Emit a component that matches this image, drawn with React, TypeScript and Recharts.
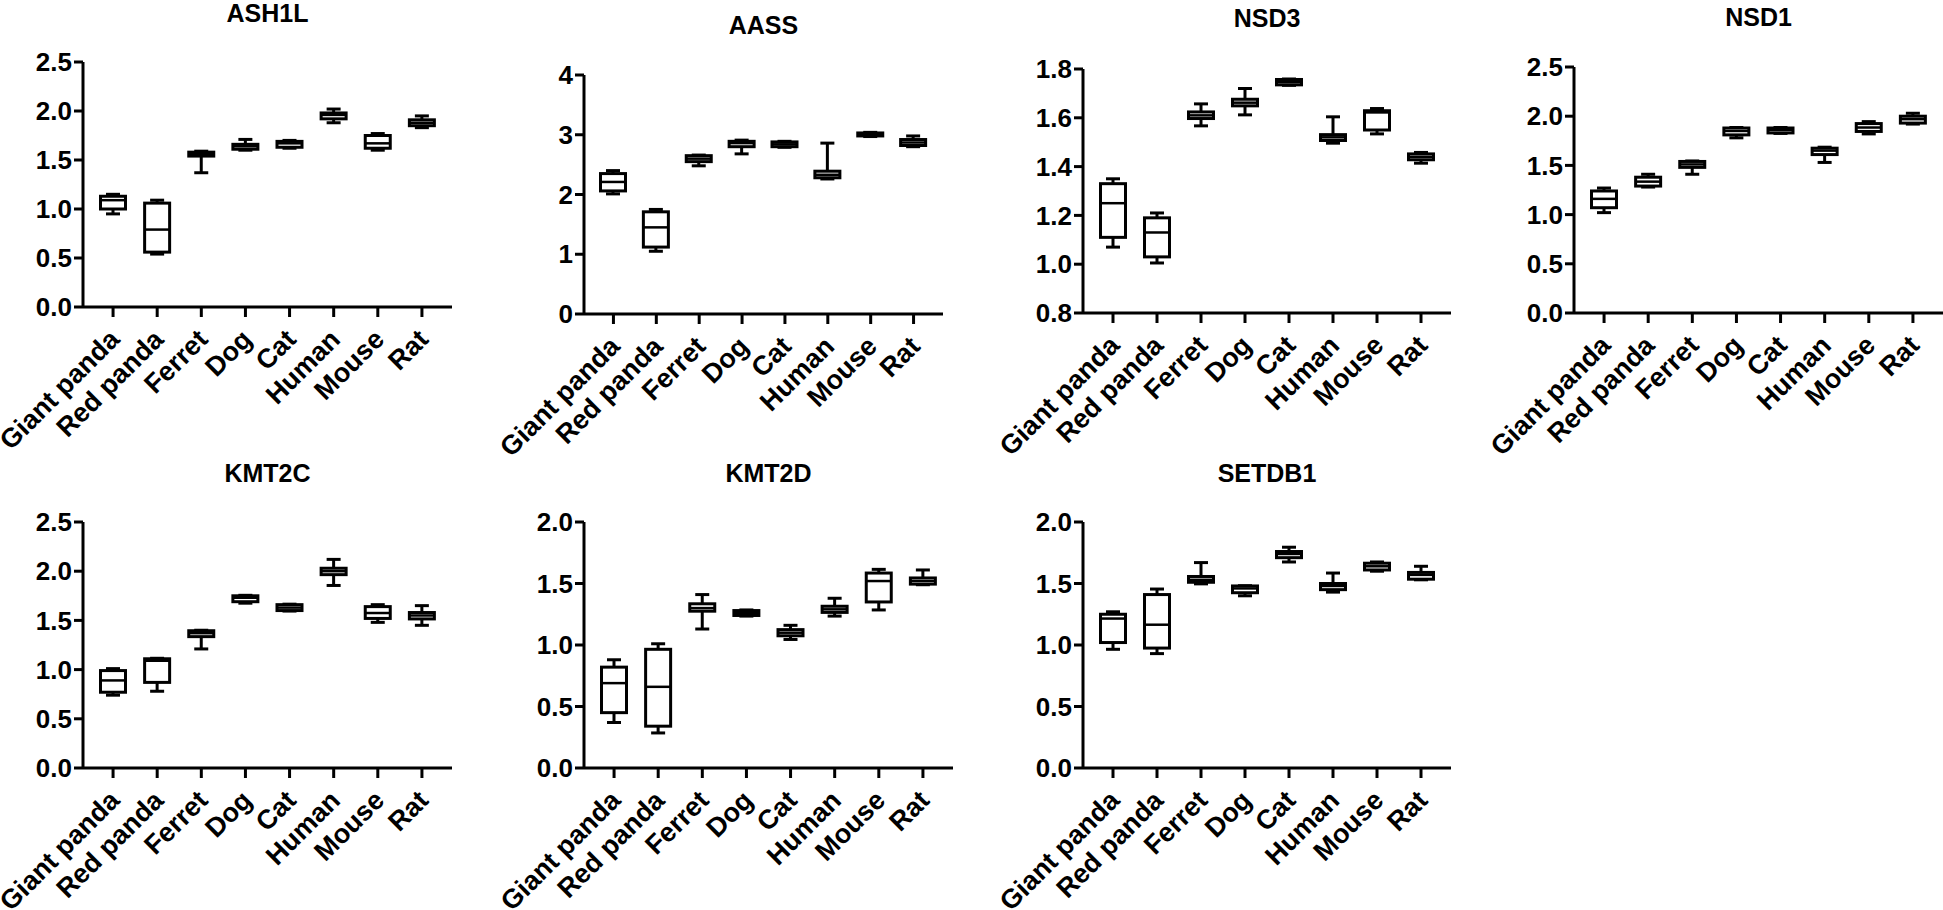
import { ComposedChart, Bar, XAxis, YAxis } from "recharts";

// species on the x axis, same order in every panel
const species = ["Giant panda", "Red panda", "Ferret", "Dog", "Cat", "Human", "Mouse", "Rat"];

// per species: [min, q1, median, q3, max]
const ash1l = [
  [0.95, 1.0, 1.09, 1.13, 1.15],
  [0.54, 0.56, 0.79, 1.06, 1.09],
  [1.37, 1.54, 1.56, 1.58, 1.59],
  [1.6, 1.61, 1.64, 1.66, 1.71],
  [1.62, 1.63, 1.67, 1.69, 1.7],
  [1.88, 1.92, 1.96, 1.98, 2.02],
  [1.6, 1.62, 1.67, 1.75, 1.77],
  [1.83, 1.85, 1.88, 1.91, 1.95],
];
const aass = [
  [2.01, 2.06, 2.21, 2.35, 2.4],
  [1.05, 1.12, 1.45, 1.71, 1.75],
  [2.48, 2.55, 2.6, 2.65, 2.66],
  [2.68, 2.8, 2.86, 2.89, 2.91],
  [2.79, 2.8, 2.84, 2.88, 2.89],
  [2.26, 2.28, 2.33, 2.39, 2.86],
  [2.97, 2.98, 3.01, 3.03, 3.04],
  [2.8, 2.82, 2.87, 2.92, 2.98],
];
const nsd3 = [
  [1.07, 1.11, 1.25, 1.33, 1.35],
  [1.005, 1.03, 1.13, 1.19, 1.21],
  [1.567, 1.597, 1.61, 1.624, 1.657],
  [1.612, 1.649, 1.662, 1.676, 1.72],
  [1.733, 1.735, 1.746, 1.757, 1.759],
  [1.496, 1.507, 1.52, 1.531, 1.604],
  [1.534, 1.55, 1.622, 1.629, 1.638],
  [1.414, 1.428, 1.44, 1.452, 1.458],
];
const nsd1 = [
  [1.02, 1.07, 1.16, 1.24, 1.27],
  [1.28, 1.29, 1.335, 1.38, 1.41],
  [1.41, 1.48, 1.51, 1.54, 1.545],
  [1.78, 1.81, 1.85, 1.88, 1.885],
  [1.825, 1.83, 1.86, 1.88, 1.885],
  [1.53, 1.61, 1.65, 1.675, 1.685],
  [1.82, 1.845, 1.885, 1.925, 1.945],
  [1.92, 1.93, 1.97, 2.0, 2.03],
];
const kmt2c = [
  [0.74, 0.77, 0.89, 0.99, 1.01],
  [0.78, 0.87, 1.09, 1.11, 1.115],
  [1.21, 1.335, 1.37, 1.395, 1.4],
  [1.675, 1.69, 1.73, 1.75, 1.755],
  [1.595, 1.6, 1.63, 1.66, 1.665],
  [1.855, 1.965, 2.0, 2.03, 2.12],
  [1.48, 1.52, 1.575, 1.64, 1.66],
  [1.45, 1.515, 1.55, 1.58, 1.65],
];
const kmt2d = [
  [0.37, 0.45, 0.69, 0.82, 0.88],
  [0.285, 0.34, 0.66, 0.965, 1.01],
  [1.13, 1.275, 1.3, 1.335, 1.41],
  [1.235, 1.24, 1.26, 1.28, 1.285],
  [1.045, 1.075, 1.1, 1.125, 1.16],
  [1.235, 1.265, 1.29, 1.315, 1.38],
  [1.285, 1.35, 1.52, 1.585, 1.615],
  [1.49, 1.495, 1.52, 1.545, 1.61],
];
const setdb1 = [
  [0.965, 1.02, 1.215, 1.25, 1.27],
  [0.93, 0.975, 1.165, 1.41, 1.455],
  [1.497, 1.51, 1.53, 1.557, 1.67],
  [1.4, 1.425, 1.46, 1.48, 1.482],
  [1.675, 1.71, 1.74, 1.76, 1.795],
  [1.43, 1.45, 1.48, 1.5, 1.585],
  [1.6, 1.61, 1.64, 1.665, 1.675],
  [1.53, 1.535, 1.57, 1.59, 1.64],
];

// y tick values
const ticks25 = [0, 0.5, 1, 1.5, 2, 2.5];
const ticks4 = [0, 1, 2, 3, 4];
const ticksNsd3 = [0.8, 1, 1.2, 1.4, 1.6, 1.8];
const ticks20 = [0, 0.5, 1, 1.5, 2];

const FONT = '"Liberation Sans", Arial, Helvetica, sans-serif';

const panels = [
  { title: "ASH1L", stats: ash1l, ticks: ticks25, digits: 1 },
  { title: "AASS", stats: aass, ticks: ticks4, digits: 0 },
  { title: "NSD3", stats: nsd3, ticks: ticksNsd3, digits: 1 },
  { title: "NSD1", stats: nsd1, ticks: ticks25, digits: 1 },
  { title: "KMT2C", stats: kmt2c, ticks: ticks25, digits: 1 },
  { title: "KMT2D", stats: kmt2d, ticks: ticks20, digits: 1 },
  { title: "SETDB1", stats: setdb1, ticks: ticks20, digits: 1 },
];

// plot area of each panel in page pixels (axis x, top tick y, axis y, right end)
const layout = [
  { left: 83, top: 62, bottom: 307, right: 452, titleTop: 1 },
  { left: 584, top: 75, bottom: 314, right: 943, titleTop: 13 },
  { left: 1083, top: 69, bottom: 313, right: 1451, titleTop: 6 },
  { left: 1574, top: 67, bottom: 313, right: 1943, titleTop: 5 },
  { left: 83, top: 522, bottom: 768, right: 452, titleTop: 461 },
  { left: 584, top: 522, bottom: 768, right: 953, titleTop: 461 },
  { left: 1083, top: 522, bottom: 768, right: 1451, titleTop: 461 },
];

function rows(stats: number[][]) {
  return species.map((name, i) => {
    const [min, q1, med, q3, max] = stats[i];
    return { name, min, q1, med, q3, max };
  });
}

// bar spans min..max, the rest is placed inside that span
function BoxShape(props: any) {
  const { x, y, width, height, payload } = props;
  const { min, q1, med, q3, max } = payload;
  const py = (v: number) => y + ((max - v) / (max - min)) * height;
  const cx = x + width / 2;
  const bw = 25;
  const cap = 7;
  return (
    <g stroke="#000" fill="none" strokeWidth={3}>
      <line x1={cx} x2={cx} y1={py(max)} y2={py(q3)} />
      <line x1={cx} x2={cx} y1={py(q1)} y2={py(min)} />
      <line x1={cx - cap} x2={cx + cap} y1={py(max)} y2={py(max)} />
      <line x1={cx - cap} x2={cx + cap} y1={py(min)} y2={py(min)} />
      <rect x={cx - bw / 2} y={py(q3)} width={bw} height={py(q1) - py(q3)} fill="#fff" />
      <line x1={cx - bw / 2} x2={cx + bw / 2} y1={py(med)} y2={py(med)} strokeWidth={2.5} />
    </g>
  );
}

function SpeciesTick({ x, y, payload }: any) {
  const tx = x + 8;
  const ty = y + 22;
  return (
    <text
      x={tx}
      y={ty}
      transform={`rotate(-45, ${tx}, ${ty})`}
      textAnchor="end"
      fontFamily={FONT}
      fontWeight="bold"
      fontSize={27}
      fill="#000"
    >
      {payload.value}
    </text>
  );
}

function Panel({ title, stats, ticks, digits, box }: any) {
  const { left, top, bottom, right, titleTop } = box;
  const yw = 110;
  const mt = 30;
  const mr = 30;
  const xh = 170;
  return (
    <>
      <div
        style={{
          position: "absolute",
          left,
          width: right - left,
          top: titleTop,
          textAlign: "center",
          font: `bold 25px/25px ${FONT}`,
          color: "#000",
        }}
      >
        {title}
      </div>
      <div style={{ position: "absolute", left: left - yw, top: top - mt }}>
        <ComposedChart
          width={right - left + yw + mr}
          height={bottom - top + mt + xh}
          data={rows(stats)}
          margin={{ top: mt, right: mr, bottom: 0, left: 0 }}
        >
          <XAxis
            dataKey="name"
            interval={0}
            padding={{ left: 8, right: 8 }}
            height={xh}
            tickSize={10}
            axisLine={{ stroke: "#000", strokeWidth: 3 }}
            tickLine={{ stroke: "#000", strokeWidth: 3 }}
            tick={<SpeciesTick />}
          />
          <YAxis
            width={yw}
            domain={[ticks[0], ticks[ticks.length - 1]]}
            ticks={ticks}
            interval={0}
            tickSize={9}
            tickFormatter={(v: number) => v.toFixed(digits)}
            axisLine={{ stroke: "#000", strokeWidth: 3 }}
            tickLine={{ stroke: "#000", strokeWidth: 3 }}
            tick={{ fill: "#000", fontSize: 26, fontWeight: "bold", fontFamily: FONT }}
          />
          <Bar
            dataKey={(d: any) => [d.min, d.max]}
            barSize={28}
            shape={<BoxShape />}
            isAnimationActive={false}
          />
        </ComposedChart>
      </div>
    </>
  );
}

export default function App() {
  return (
    <div
      style={{
        position: "absolute",
        left: 0,
        top: 0,
        width: 1943,
        height: 910,
        overflow: "hidden",
        background: "#fff",
      }}
    >
      {panels.map((p, i) => (
        <Panel key={p.title} {...p} box={layout[i]} />
      ))}
    </div>
  );
}
